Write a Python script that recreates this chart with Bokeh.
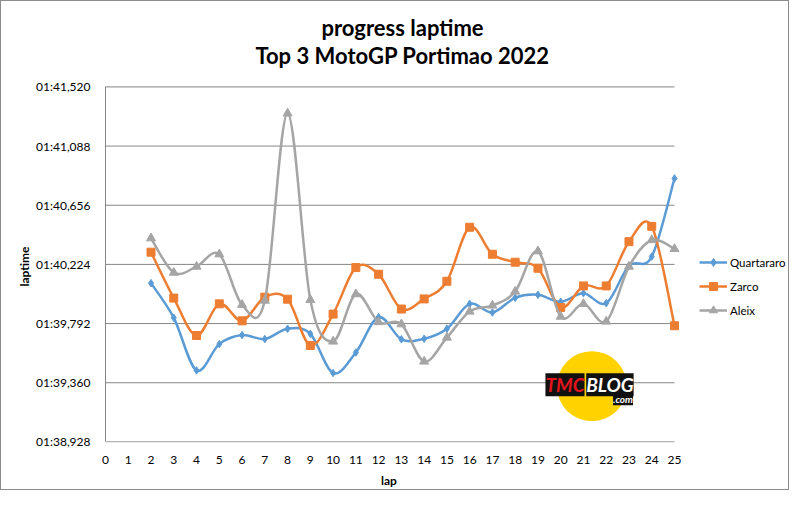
from bokeh.plotting import figure
from bokeh.models import (FixedTicker, Legend, LegendItem, Label, Range1d, Title)
from bokeh.embed import file_html
from bokeh.resources import INLINE

# ---------------- data ----------------
laps = list(range(2, 26))
quartararo = [100.087, 99.834, 99.450, 99.642, 99.708, 99.679, 99.754, 99.717,
              99.431, 99.581, 99.839, 99.677, 99.681, 99.754, 99.936, 99.873,
              99.980, 100.002, 99.951, 100.014, 99.941, 100.213, 100.281, 100.852]
zarco = [100.313, 99.978, 99.705, 99.936, 99.812, 99.985, 99.970, 99.632,
         99.861, 100.201, 100.152, 99.898, 99.972, 100.101, 100.495, 100.298,
         100.240, 100.196, 99.909, 100.067, 100.067, 100.390, 100.502, 99.776]
aleix = [100.415, 100.164, 100.208, 100.298, 99.929, 99.960, 101.326, 99.965,
         99.661, 100.007, 99.803, 99.787, 99.515, 99.690, 99.880, 99.924,
         100.026, 100.320, 99.843, 99.936, 99.807, 100.208, 100.402, 100.337]
series_names = ["Quartararo", "Zarco", "Aleix"]
series_colors = ["#5B9BD5", "#ED7D31", "#A5A5A5"]
series_markers = ["diamond", "square", "triangle"]
series_sizes = [7.5, 8, 9]

y_ticks = [98.928, 99.360, 99.792, 100.224, 100.656, 101.088, 101.520]
y_tick_labels = ["01:38,928", "01:39,360", "01:39,792", "01:40,224",
                 "01:40,656", "01:41,088", "01:41,520"]
x_ticks = list(range(0, 26))

title_1 = "progress laptime"
title_2 = "Top 3 MotoGP Portimao 2022"
x_title = "lap"
y_title = "laptime"

FONT = "Lato"
GRID = "#868686"

# layout (pixels)
W, H = 789, 490
LEFT, BOTTOM = 104, 48
PLOT_W = 569           # pixel width of the lap axis 0..25
PLOT_H = 355.8         # pixel height of the tick span
FRAME_W = W - LEFT
FRAME_H = H - BOTTOM


def smooth_segments(xs, ys):
    """Bezier control points (Excel-like smoothing) from the data points."""
    n = len(xs)
    out = {k: [] for k in ("x0", "y0", "x1", "y1", "cx0", "cy0", "cx1", "cy1")}
    for i in range(n - 1):
        a = i - 1 if i > 0 else i
        d = i + 2 if i + 2 < n else i + 1
        out["x0"].append(xs[i]); out["y0"].append(ys[i])
        out["x1"].append(xs[i + 1]); out["y1"].append(ys[i + 1])
        out["cx0"].append(xs[i] + (xs[i + 1] - xs[a]) / 6.0)
        out["cy0"].append(ys[i] + (ys[i + 1] - ys[a]) / 6.0)
        out["cx1"].append(xs[i + 1] - (xs[d] - xs[i]) / 6.0)
        out["cy1"].append(ys[i + 1] - (ys[d] - ys[i]) / 6.0)
    return out


x0, x1 = x_ticks[0], x_ticks[-1]
y0, y1 = y_ticks[0], y_ticks[-1]
ux = (x1 - x0) / PLOT_W          # data units per pixel
uy = (y1 - y0) / PLOT_H
y_start = y0 - 0.6 * uy
x_range = Range1d(x0, x0 + FRAME_W * ux)
y_range = Range1d(y_start, y_start + FRAME_H * uy)

p = figure(width=W, height=H, output_backend="svg", toolbar_location=None,
           x_range=x_range, y_range=y_range,
           min_border_left=LEFT, min_border_right=0, min_border_top=0,
           min_border_bottom=BOTTOM)
p.title = None
p.outline_line_color = None
p.background_fill_color = "white"
p.border_fill_color = "white"
p.styles = {"border": "1px solid #8c8c8c", "box-sizing": "border-box"}

# grid lines limited to the lap span
p.xgrid.visible = False
p.ygrid.visible = False
p.segment(x0=[x0] * len(y_ticks), x1=[x1] * len(y_ticks), y0=y_ticks,
          y1=y_ticks, line_color=GRID, line_width=1, level="underlay")

# axes
p.yaxis.ticker = FixedTicker(ticks=y_ticks)
p.yaxis.major_label_overrides = {t: l for t, l in zip(y_ticks, y_tick_labels)}
p.yaxis.bounds = (y0, y1)
p.xaxis.ticker = FixedTicker(ticks=x_ticks)
p.xaxis.bounds = (x0, x1)
for ax in (p.xaxis[0], p.yaxis[0]):
    ax.axis_line_color = GRID
    ax.major_tick_line_color = None
    ax.minor_tick_line_color = None
    ax.major_label_text_font = FONT
    ax.major_label_text_font_size = "12px"
    ax.major_label_text_color = "#000000"
p.xaxis.axis_line_color = None
p.yaxis.major_label_standoff = 9
p.xaxis.major_label_standoff = 7

# axis titles placed along the lap / time spans
p.add_layout(Title(text=x_title, text_font=FONT, text_font_style="bold",
                   text_font_size="12px", text_color="#000000", align="left",
                   offset=(PLOT_W / 2) - 9, standoff=8), "below")
p.add_layout(Title(text=y_title, text_font=FONT, text_font_style="bold",
                   text_font_size="12px", text_color="#000000", align="left",
                   offset=(PLOT_H / 2) - 22, standoff=3), "left")

# watermark logo (decoration)
p.scatter(x=[21.37], y=[99.335], size=70, marker="circle",
          fill_color="#FFD200", line_color=None)
p.add_layout(Label(x=19.33, y=99.345, text="TMC", text_font=FONT,
                   text_font_style="bold italic", text_font_size="19px",
                   text_color="#E3141B", text_baseline="middle",
                   background_fill_color="#111111", text_align="left"))
p.add_layout(Label(x=21.12, y=99.345, text="BLOG", text_font=FONT,
                   text_font_style="bold italic", text_font_size="19px",
                   text_color="white", text_baseline="middle",
                   background_fill_color="#111111", text_align="left"))
p.add_layout(Label(x=22.3, y=99.24, text=".com", text_font=FONT,
                   text_font_style="bold italic", text_font_size="10px",
                   text_color="white", text_baseline="middle",
                   background_fill_color="#111111", text_align="left"))

items = []
for name, ys, col, mk, sz in zip(series_names, [quartararo, zarco, aleix],
                                 series_colors, series_markers, series_sizes):
    seg = smooth_segments(laps, ys)
    r1 = p.bezier(line_color=col, line_width=2.5, **seg)
    r2 = p.scatter(laps, ys, marker=mk, size=sz, fill_color=col, line_color=col)
    items.append(LegendItem(label=name, renderers=[r1, r2]))

legend = Legend(items=items, location=(594, 122), margin=0, padding=0,
                spacing=4, glyph_width=28, glyph_height=20, label_height=20,
                label_standoff=3, border_line_color=None,
                background_fill_alpha=0, label_text_font=FONT,
                label_text_font_size="11.5px", label_text_color="#000000")
p.add_layout(legend, "center")

# titles
for txt, yy in ((title_1, FRAME_H - 27), (title_2, FRAME_H - 55)):
    p.add_layout(Label(x=297, y=yy, x_units="screen", y_units="screen",
                       text=txt, text_font=FONT, text_font_style="bold",
                       text_font_size="22px", text_align="center",
                       text_baseline="middle", text_color="#000000"))

open("out.html", "w").write(file_html(p, INLINE))
